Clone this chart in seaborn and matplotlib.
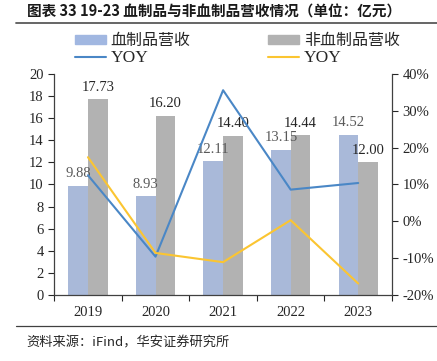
import matplotlib
matplotlib.use("Agg")
import matplotlib.pyplot as plt
from matplotlib.lines import Line2D
from matplotlib.patches import Patch
import numpy as np
import pandas as pd
import seaborn as sns

# ─── Data ─────────────────────────────────────────────────────────────────────
years = ["2019", "2020", "2021", "2022", "2023"]
blood_rev = [9.88, 8.93, 12.11, 13.15, 14.52]
nonblood_rev = [17.73, 16.20, 14.40, 14.44, 12.00]
blood_yoy = [12.5, -9.6, 35.6, 8.6, 10.4]
nonblood_yoy = [17.4, -8.6, -11.1, 0.3, -16.9]

left_ticks = list(range(0, 21, 2))
right_ticks = [-20, -10, 0, 10, 20, 30, 40]

BLUE_BAR = "#A1B7E1"
GRAY_BAR = "#B2B2B2"
BLUE_LINE = "#4A87C6"
YELLOW_LINE = "#FBC531"

sns.set_theme(style="white")
plt.rcParams["font.family"] = ["Liberation Serif", "Noto Sans CJK SC"]
CJK = ["Noto Sans CJK SC", "DejaVu Sans"]

df = pd.DataFrame({
    "year": years * 2,
    "value": blood_rev + nonblood_rev,
    "kind": ["血制品营收"] * len(years) + ["非血制品营收"] * len(years),
})

fig = plt.figure(figsize=(4.37, 3.61), dpi=100)
ax = fig.add_axes([0.124, 0.183, 0.773, 0.612])

sns.barplot(data=df, x="year", y="value", hue="kind",
            palette=[BLUE_BAR, GRAY_BAR], width=0.58, gap=0,
            linewidth=0, legend=False, ax=ax)

# value labels
for cont, vals, col in zip(ax.containers, [blood_rev, nonblood_rev],
                           ["#595959", "#262626"]):
    for rect, v in zip(cont, vals):
        ax.annotate(f"{v:.2f}", (rect.get_x() + rect.get_width() / 2, v),
                    xytext=(0, 4), textcoords="offset points",
                    ha="center", va="bottom", fontsize=10.5, color=col)

ax.set_ylim(0, 20)
ax.set_yticks(left_ticks)
ax.set_xlim(-0.5, len(years) - 0.5)
ax.set_xlabel("")
ax.set_ylabel("")
ax.set_xticks(np.arange(len(years)))
ax.set_xticklabels(years)
ax.tick_params(axis="x", length=0, labelsize=10.5, pad=8, colors="#262626")
ax.tick_params(axis="y", length=4, width=0.8, direction="out",
               labelsize=10.5, colors="#262626", left=True)
ax.set_xticks(np.arange(len(years) + 1) - 0.5, minor=True)
ax.tick_params(axis="x", which="minor", length=4, width=0.8, bottom=True)
for s in ["top", "right"]:
    ax.spines[s].set_visible(False)
for s in ["left", "bottom"]:
    ax.spines[s].set_color("#404040")
    ax.spines[s].set_linewidth(0.9)

# YOY lines on right axis
ax2 = ax.twinx()
x_pos = np.arange(len(years))
sns.lineplot(x=x_pos, y=blood_yoy, color=BLUE_LINE, linewidth=1.5, ax=ax2)
sns.lineplot(x=x_pos, y=nonblood_yoy, color=YELLOW_LINE, linewidth=1.5, ax=ax2)
ax2.set_ylim(-20, 40)
ax2.set_yticks(right_ticks)
ax2.set_yticklabels([f"{t}%" for t in right_ticks])
ax2.tick_params(axis="y", length=4, width=0.8, direction="out",
                labelsize=10.5, colors="#262626", right=True)
ax2.set_xlim(-0.5, len(years) - 0.5)
for s in ["top", "left", "bottom"]:
    ax2.spines[s].set_visible(False)
ax2.spines["right"].set_color("#404040")
ax2.spines["right"].set_linewidth(0.9)

# legend
handles = [
    Patch(color=BLUE_BAR), Line2D([], [], color=BLUE_LINE, lw=1.5),
    Patch(color=GRAY_BAR), Line2D([], [], color=YELLOW_LINE, lw=1.5),
]
labels = ["血制品营收", "YOY", "非血制品营收", "YOY"]
leg = fig.legend(handles, labels, ncol=2, loc="upper left",
                 bbox_to_anchor=(0.153, 0.933), frameon=False, borderpad=0,
                 handlelength=1.95, handleheight=0.5, columnspacing=4.85,
                 labelspacing=0.05, handletextpad=0.3,
                 prop={"family": ["Noto Sans CJK SC"], "size": 11.5})
for t in leg.get_texts():
    t.set_color("#262626")
    if t.get_text() == "YOY":
        t.set_fontfamily("Liberation Serif")
        t.set_fontsize(12.5)

# title, rules and source
fig.text(0.062, 0.967, "图表 33 19-23 血制品与非血制品营收情况（单位：亿元）",
         family=CJK, fontsize=10.5, fontweight="bold", va="center", ha="left",
         color="#1a1a1a")
fig.add_artist(Line2D([0.037, 1.0], [0.936, 0.936], color="#595959", lw=1.3))
fig.add_artist(Line2D([0.037, 1.0], [0.097, 0.097], color="#404040", lw=0.9))
fig.text(0.06, 0.05, "资料来源：iFind，华安证券研究所", family=CJK,
         fontsize=9.5, va="center", ha="left", color="#262626")

fig.savefig("out.png", dpi=100)
